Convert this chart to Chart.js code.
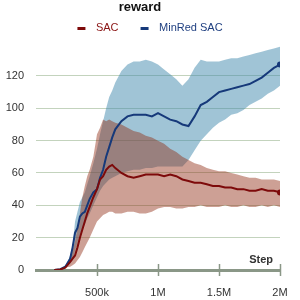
<!DOCTYPE html>
<html>
<head>
<meta charset="utf-8">
<script src="https://cdn.jsdelivr.net/npm/chart.js@4/dist/chart.umd.min.js"></script>
<style>
html, body { margin: 0; padding: 0; background: #fff; }
#wrap { width: 300px; height: 300px; }
</style>
</head>
<body>
<div id="wrap"><canvas id="chart"></canvas></div>
<script>
// steps in thousands
const steps = [150, 200, 240, 280, 300, 320, 340, 360, 380, 400, 420, 440, 470, 500, 525, 550, 575, 600, 625, 650,
  700, 750, 800, 850, 900, 950, 1000, 1050, 1100, 1150, 1200, 1250, 1300, 1350, 1400, 1450, 1500, 1550, 1600, 1650,
  1700, 1750, 1800, 1850, 1900, 1950, 2000];

const sacMean = [0, 0.3, 1.5, 5, 7, 9, 14, 20, 25, 30, 35, 39, 45, 50, 56, 58, 62, 64, 65, 63,
  60, 58, 57, 58, 59, 59, 59, 58, 59, 58, 56, 55, 54, 54, 53, 52, 52, 51, 51, 50,
  50, 49, 49, 50, 49, 49, 48];
const sacUpper = [0, 0.3, 1.5, 8, 12, 18, 26, 35, 45, 52, 58, 62, 70, 84, 88, 93, 92, 93, 92, 91,
  90, 88, 86, 85, 83, 82, 80, 78, 75, 73, 70, 68, 66, 65, 63, 62, 61, 61, 60, 59,
  58, 57, 57, 56, 56, 56, 55];
const sacLower = [0, 0.3, 1.5, 2, 3, 4, 6, 8, 11, 14, 17, 20, 25, 30, 32, 34, 35, 36, 36, 35,
  35, 36, 36, 35, 35, 36, 38, 39, 39, 38, 38, 39, 39, 40, 39, 39, 39, 40, 39, 39,
  40, 39, 39, 40, 39, 40, 39];

const minredMean = [0, 0.5, 2, 7, 14, 23, 26, 33, 35, 36, 40, 44, 48, 50, 57, 62, 70, 76, 82, 87,
  92, 95, 96, 96, 96, 95, 97, 95, 93, 92, 90, 89, 95, 102, 104, 107, 110, 111, 112, 113,
  114, 115, 117, 119, 122, 125, 127];
const minredUpper = [0, 0.5, 2, 9, 15, 30, 36, 42, 45, 48, 53, 58, 66, 75, 84, 92, 100, 107, 111, 116,
  123, 127, 129, 129, 130, 129, 127, 124, 121, 118, 114, 118, 125, 130, 129, 129, 129, 130, 131, 131,
  132, 133, 134, 135, 136, 137, 138];
const minredLower = [0, 0.5, 2, 4, 6, 12, 17, 22, 26, 28, 32, 35, 40, 45, 49, 52, 54, 56, 57, 58,
  60, 61, 62, 62, 63, 63, 64, 64, 64, 64, 64, 68, 74, 80, 84, 88, 91, 93, 96, 97,
  99, 102, 104, 106, 109, 111, 114];

const xTickValues = [500000, 1000000, 1500000, 2000000];
const xTickLabels = ['500k', '1M', '1.5M', '2M'];
const yTickValues = [0, 20, 40, 60, 80, 100, 120];

const FONT = '"Liberation Sans", Arial, sans-serif';
const RED = '#7d0a0a';
const BLUE = '#16397a';

const toPts = vals => vals.map((v, i) => ({ x: steps[i] * 1000, y: v }));
const lastDot = vals => vals.map((v, i) => (i === vals.length - 1 ? 3 : 0));

// legend marker: short thick dash with some space around it
function dash(color) {
  const c = document.createElement('canvas');
  c.width = 33;
  c.height = 3;
  const g = c.getContext('2d');
  g.fillStyle = color;
  g.fillRect(20, 0, 8, 3);
  return c;
}

// tick marks crossing the x axis + the "Step" label
const axisExtras = {
  id: 'axisExtras',
  afterDraw(chart) {
    const { ctx, chartArea, scales: { x } } = chart;
    ctx.save();
    ctx.strokeStyle = '#8a9787';
    ctx.lineWidth = 1.5;
    xTickValues.forEach(v => {
      const px = Math.round(x.getPixelForValue(v)) + 0.5;
      ctx.beginPath();
      ctx.moveTo(px, chartArea.bottom - 6);
      ctx.lineTo(px, chartArea.bottom + 6);
      ctx.stroke();
    });
    ctx.fillStyle = '#333';
    ctx.font = 'bold 11px ' + FONT;
    ctx.textAlign = 'right';
    ctx.textBaseline = 'bottom';
    ctx.fillText('Step', chartArea.right - 7, chartArea.bottom - 5);
    ctx.restore();
  }
};

new Chart(document.getElementById('chart'), {
  type: 'line',
  data: {
    datasets: [
      { label: 'SAC', data: toPts(sacMean), borderColor: RED, backgroundColor: RED, borderWidth: 2,
        pointRadius: lastDot(sacMean), pointBackgroundColor: RED, pointBorderWidth: 0, fill: false },
      { label: 'MinRed SAC', data: toPts(minredMean), borderColor: BLUE, backgroundColor: BLUE, borderWidth: 2,
        pointRadius: lastDot(minredMean), pointBackgroundColor: BLUE, pointBorderWidth: 0, fill: false },
      { label: 'sac_hi', data: toPts(sacUpper), borderWidth: 0, pointRadius: 0, fill: '+1',
        backgroundColor: 'rgba(144, 45, 20, 0.45)' },
      { label: 'sac_lo', data: toPts(sacLower), borderWidth: 0, pointRadius: 0, fill: false },
      { label: 'minred_hi', data: toPts(minredUpper), borderWidth: 0, pointRadius: 0, fill: '+1',
        backgroundColor: 'rgba(65, 137, 173, 0.5)' },
      { label: 'minred_lo', data: toPts(minredLower), borderWidth: 0, pointRadius: 0, fill: false }
    ]
  },
  options: {
    responsive: true,
    maintainAspectRatio: false,
    animation: false,
    layout: { padding: { right: 20, left: 0, top: 0, bottom: 0 } },
    plugins: {
      title: {
        display: true, text: 'reward', color: '#111',
        font: { family: FONT, size: 13, weight: 'bold' },
        padding: { top: 0, bottom: 5 }
      },
      legend: {
        labels: {
          usePointStyle: true,
          pointStyleWidth: 33,
          boxHeight: 8,
          padding: 2,
          font: { family: FONT, size: 11 },
          generateLabels(chart) {
            const items = Chart.defaults.plugins.legend.labels.generateLabels(chart)
              .filter(it => it.datasetIndex < 2);
            items.forEach(it => {
              it.fontColor = it.datasetIndex === 0 ? '#8a1414' : '#1f3f80';
              it.pointStyle = dash(it.datasetIndex === 0 ? RED : BLUE);
            });
            return items;
          }
        }
      },
      tooltip: { enabled: false }
    },
    scales: {
      x: {
        type: 'linear', min: 0, max: 2000000,
        afterBuildTicks: s => { s.ticks = xTickValues.map(v => ({ value: v })); },
        afterFit: s => { s.height = 30; },
        grid: { display: false },
        border: { color: '#8a9787', width: 3 },
        ticks: {
          color: '#333', padding: 8, maxRotation: 0,
          font: { family: FONT, size: 11 },
          callback: (v) => xTickLabels[xTickValues.indexOf(v)]
        }
      },
      y: {
        min: 0, max: 140,
        afterBuildTicks: s => { s.ticks = yTickValues.map(v => ({ value: v })); },
        afterFit: s => { s.width = 36; },
        border: { display: false },
        grid: {
          drawTicks: false,
          color: c => (c.tick && c.tick.value === 0 ? 'rgba(0,0,0,0)' : '#c3d3bd'),
          lineWidth: 1
        },
        ticks: { color: '#333', padding: 12, font: { family: FONT, size: 11 } }
      }
    }
  },
  plugins: [axisExtras]
});
</script>
</body>
</html>
